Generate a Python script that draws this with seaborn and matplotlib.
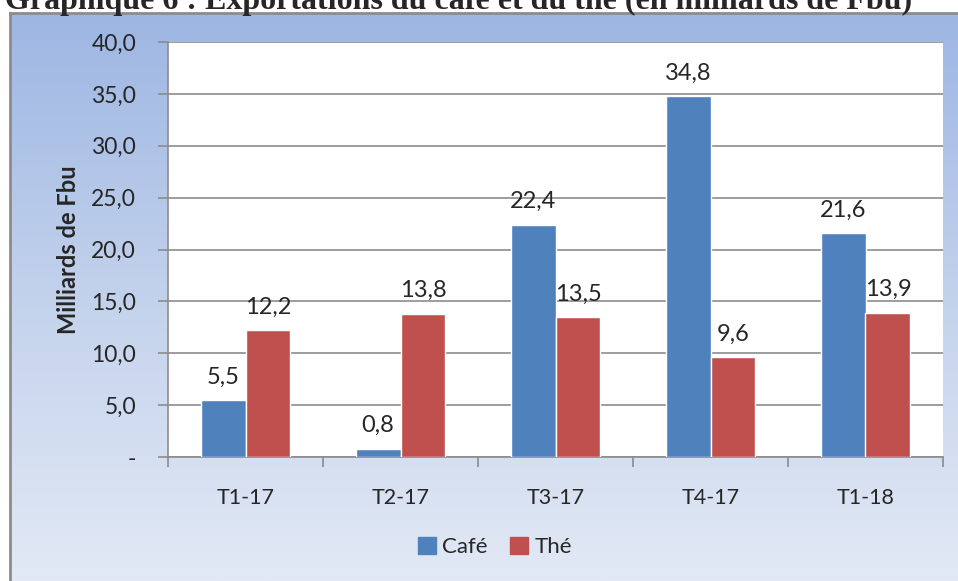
import numpy as np
import pandas as pd
import seaborn as sns
import matplotlib.pyplot as plt
from matplotlib.colors import LinearSegmentedColormap
from matplotlib.ticker import FixedLocator

sns.set_theme(style="white")
plt.rcParams['font.family'] = ['Lato', 'DejaVu Sans']

categories = ["T1-17", "T2-17", "T3-17", "T4-17", "T1-18"]
cafe = [5.5, 0.8, 22.4, 34.8, 21.6]
the = [12.2, 13.8, 13.5, 9.6, 13.9]
series_names = ["Café", "Thé"]

df = pd.DataFrame({
    "periode": categories * 2,
    "valeur": cafe + the,
    "produit": [series_names[0]] * len(categories) + [series_names[1]] * len(categories),
})

W, H = 958, 581
fig = plt.figure(figsize=(W / 100, H / 100), dpi=100)
fig.patch.set_facecolor("white")

# gradient panel behind the chart
bg = fig.add_axes([10 / W, 0, (W - 10) / W, (H - 13) / H])
grad = np.linspace(0, 1, 256).reshape(-1, 1)
cmap_bg = LinearSegmentedColormap.from_list("bg", ["#9DB6E3", "#C3D2EC", "#E2E9F5"])
bg.imshow(grad, aspect="auto", cmap=cmap_bg, extent=[0, 1, 0, 1])
bg.set_xticks([])
bg.set_yticks([])
for s in bg.spines.values():
    s.set_color("#8C8C8C")
    s.set_linewidth(2)
bg.spines["right"].set_visible(False)
bg.spines["bottom"].set_visible(False)

# title is cut at the top in the source picture
fig.text(5 / W, 1 - 9 / H, "Graphique 6 : Exportations du café et du thé (en milliards de Fbu)",
         family="Liberation Serif", weight="bold", fontsize=23, ha="left", va="baseline")

ax = fig.add_axes([168 / W, (H - 457) / H, (943 - 168) / W, (457 - 42) / H])
ax.set_facecolor("white")
sns.barplot(data=df, x="periode", y="valeur", hue="produit",
            palette=["#4F81BD", "#C0504D"], width=0.58, saturation=1,
            ax=ax, zorder=3)

for cont in ax.containers:
    ax.bar_label(cont, labels=[f"{v:.1f}".replace(".", ",") for v in cont.datavalues],
                 padding=9, fontsize=17, color="#262626")

ax.set_ylim(0, 40)
ax.set_xlim(-0.5, 4.5)
yt = np.arange(0, 41, 5)
ax.set_yticks(yt)
ax.set_yticklabels(["-"] + [f"{v:.1f}".replace(".", ",") for v in yt[1:]], fontsize=16.5, color="#262626")
ax.yaxis.grid(True, color="#8C8C8C", linewidth=1.2, zorder=0)
ax.tick_params(axis="y", length=7, width=1.2, color="#8C8C8C", pad=16, left=True)
ax.tick_params(axis="x", which="major", length=0, pad=22, labelsize=15.5, labelcolor="#262626")
ax.xaxis.set_minor_locator(FixedLocator(np.arange(-0.5, 5, 1)))
ax.tick_params(axis="x", which="minor", length=7, width=1.2, color="#8C8C8C", bottom=True)
ax.set_xlabel("")
ax.set_ylabel("Milliards de Fbu", fontsize=17, weight="bold", labelpad=8)

for side in ["top", "right"]:
    ax.spines[side].set_visible(False)
for side in ["left", "bottom"]:
    ax.spines[side].set_color("#8C8C8C")
    ax.spines[side].set_linewidth(1.2)

ax.legend_.remove()
handles = [plt.Rectangle((0, 0), 1, 1, color=c) for c in ["#4F81BD", "#C0504D"]]
fig.legend(handles, series_names, loc="center", bbox_to_anchor=(495 / W, 1 - 547 / H),
           ncol=2, frameon=False, fontsize=16, handlelength=0.8, handleheight=0.8,
           handletextpad=0.3, columnspacing=1.0)

fig.savefig("out.png", dpi=100)
